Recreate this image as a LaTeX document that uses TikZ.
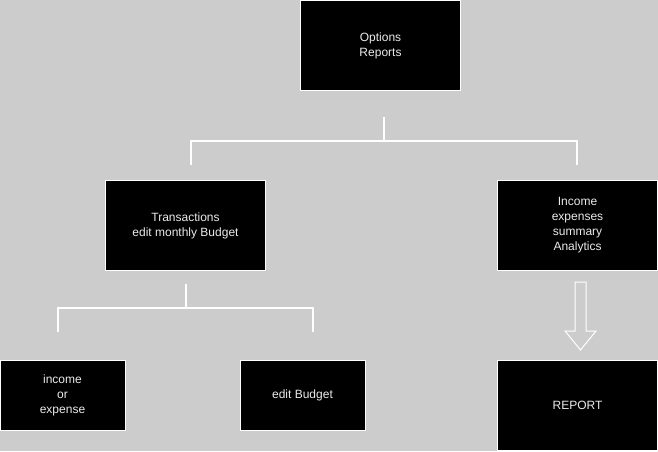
\documentclass[tikz,border=0pt]{standalone}
\usepackage{fontspec}
\setmainfont{Liberation Sans}
\usetikzlibrary{calc}
\definecolor{bg}{RGB}{204,204,204}
\definecolor{txt}{RGB}{235,235,235}
\begin{document}
\begin{tikzpicture}[x=1pt,y=-1pt,
  box/.style={draw=white,line width=1pt,fill=black,text=txt,align=center,
    font=\fontsize{12}{15}\selectfont,inner sep=0pt,minimum width=160pt,minimum height=90pt},
  smallbox/.style={box,minimum width=125pt,minimum height=70pt},
  link/.style={draw=white,line width=2pt},
  blockarrow/.style={draw=white,line width=1pt,line join=miter}]
\fill[bg] (0,0) rectangle (658,451);
\useasboundingbox (0,0) rectangle (658,451);

\node[box] (top) at (380.5,45.5) {Options\\Reports};
\node[box] (trans) at (185.5,225.5) {Transactions\\edit monthly Budget};
\node[box] (inc) at (577.5,225.5) {Income\\expenses\\summary\\Analytics};
\node[smallbox] (ioe) at (62.5,395.5) {income\\or\\expense};
\node[smallbox] (edit) at (302.5,395.5) {edit Budget};
\node[box] (rep) at (577.5,405.5) {REPORT};

% bracket under top
\coordinate (t1) at ($(top.south)+(3,26)$);
\coordinate (t2) at ($(t1)+(0,24)$);
\coordinate (t3) at ($(trans.north)+(5,-15)$);
\coordinate (t4) at ($(inc.north)+(-1,-15)$);
\draw[link] (t1) -- (t2);
\draw[link,line join=miter] (t3) -- (t3 |- t2) -- (t4 |- t2) -- (t4);

% bracket under transactions
\coordinate (s1) at ($(trans.south)+(0.5,13)$);
\coordinate (s2) at ($(s1)+(0,24)$);
\coordinate (s3) at ($(ioe.north)+(-4.5,-28)$);
\coordinate (s4) at ($(edit.north)+(10.5,-28)$);
\draw[link] (s1) -- (s2);
\draw[link,line join=miter] (s3) -- (s3 |- s2) -- (s4 |- s2) -- (s4);

% block arrow
\coordinate (a0) at ($(inc.south)+(3,11)$);
\coordinate (a1) at ($(rep.north)+(3,-10)$);
\draw[blockarrow] ($(a0)+(-5.5,0)$) -- ($(a0)+(5.5,0)$) -- ($(a1)+(5.5,-19)$) -- ($(a1)+(15.5,-19)$)
  -- (a1) -- ($(a1)+(-15.5,-19)$) -- ($(a1)+(-5.5,-19)$) -- cycle;
\end{tikzpicture}
\end{document}
